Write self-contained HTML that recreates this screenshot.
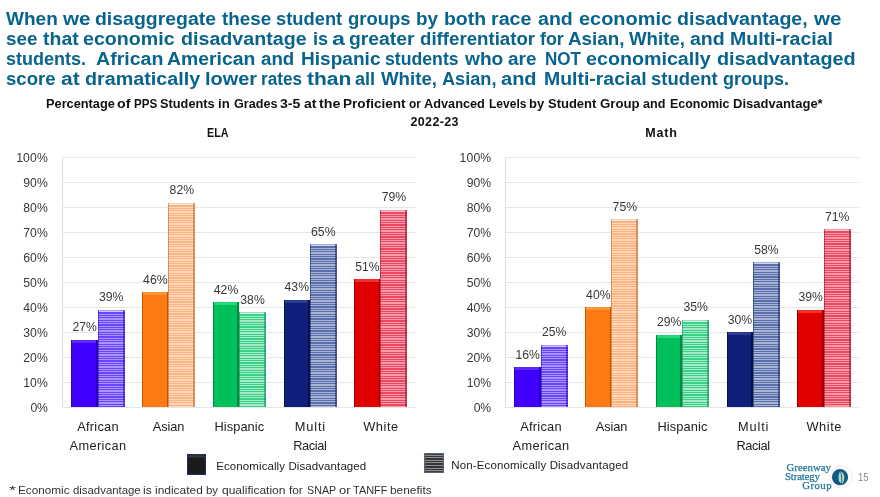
<!DOCTYPE html>
<html lang="en"><head><meta charset="utf-8"><title>Slide 15</title>
<style>
html,body{margin:0;padding:0;background:#fff;}
body{width:880px;height:497px;position:relative;overflow:hidden;font-family:"Liberation Sans",sans-serif;}
div,span{position:absolute;}
.ln{left:0;top:0;width:880px;height:0;}
.t{white-space:nowrap;font-weight:bold;font-size:18px;line-height:20px;color:#08648e;}
.sub{font-weight:bold;font-size:12.5px;color:#111;white-space:nowrap;line-height:13px;}
.grid{height:1px;background:#e6e6e6;}
.ax{width:1px;background:#dedede;}
.yl{white-space:nowrap;font-size:12.2px;line-height:14px;color:#383838;}
.cl{white-space:nowrap;font-size:12.8px;line-height:14px;color:#222;}
.dl{white-space:nowrap;font-size:12.2px;line-height:14px;color:#383838;}
.b0{--c:#3f00ff;--d:#2c00b8;--l:#5a2aff;--s1:#6a44ff;--s2:#aa94ff;--e:rgba(44,0,184,.55);}
.b1{--c:#ff7a12;--d:#bd5600;--l:#ff9438;--s1:#ffb27e;--s2:#ffd8be;--e:rgba(180,90,20,.5);}
.b2{--c:#00c05c;--d:#008a40;--l:#22d97a;--s1:#3ccf88;--s2:#a4ebc8;--e:rgba(0,130,70,.5);}
.b3{--c:#10207a;--d:#081248;--l:#2c3c92;--s1:#5a6eac;--s2:#a8b4d4;--e:rgba(20,34,100,.55);}
.b4{--c:#e00000;--d:#980000;--l:#f23030;--s1:#ee4660;--s2:#f99aa8;--e:rgba(150,10,30,.55);}
.s{background:linear-gradient(to right,var(--d) 0,var(--d) 1px,transparent 1px,transparent calc(100% - 2.2px),var(--d) calc(100% - 2.2px)),linear-gradient(to bottom,var(--l) 0,var(--l) 2.6px,transparent 2.6px),var(--c);}
.h{background:linear-gradient(to right,var(--e) 0,var(--e) .8px,transparent .8px,transparent calc(100% - 2.2px),var(--e) calc(100% - 2.2px)),linear-gradient(to bottom,rgba(255,255,255,.45) 0,rgba(255,255,255,.45) 2px,transparent 2px),repeating-linear-gradient(to bottom,var(--s1) 0,var(--s1) 1.2px,var(--s2) 1.2px,var(--s2) 2.4px);}
.lg{font-size:11.5px;color:#222;white-space:nowrap;line-height:12px;}
</style></head>
<body>
<div class="ln"><span class="t" style="left:5.9px;top:8.9px;transform-origin:0 50%;transform:scaleX(1.0571)">When</span> <span class="t" style="left:62.6px;top:8.9px;transform-origin:0 50%;transform:scaleX(1.1451)">we</span> <span class="t" style="left:94.5px;top:8.9px;transform-origin:0 50%;transform:scaleX(1.0799)">disaggregate</span> <span class="t" style="left:221.7px;top:8.9px;transform-origin:0 50%;transform:scaleX(1.0482)">these</span> <span class="t" style="left:276.3px;top:8.9px;transform-origin:0 50%;transform:scaleX(1.0185)">student</span> <span class="t" style="left:348.1px;top:8.9px;transform-origin:0 50%;transform:scaleX(1.0230)">groups</span> <span class="t" style="left:416.3px;top:8.9px;transform-origin:0 50%;transform:scaleX(1.0468)">by</span> <span class="t" style="left:443.5px;top:8.9px;transform-origin:0 50%;transform:scaleX(1.0774)">both</span> <span class="t" style="left:490.5px;top:8.9px;transform-origin:0 50%;transform:scaleX(1.0932)">race</span> <span class="t" style="left:537.7px;top:8.9px;transform-origin:0 50%;transform:scaleX(1.0870)">and</span> <span class="t" style="left:578.5px;top:8.9px;transform-origin:0 50%;transform:scaleX(1.1067)">economic</span> <span class="t" style="left:677.2px;top:8.9px;transform-origin:0 50%;transform:scaleX(1.0887)">disadvantage,</span> <span class="t" style="left:813.5px;top:8.9px;transform-origin:0 50%;transform:scaleX(1.1451)">we</span></div>
<div class="ln"><span class="t" style="left:5.9px;top:28.8px;transform-origin:0 50%;transform:scaleX(1.0484)">see</span> <span class="t" style="left:42.6px;top:28.8px;transform-origin:0 50%;transform:scaleX(1.0818)">that</span> <span class="t" style="left:83.0px;top:28.8px;transform-origin:0 50%;transform:scaleX(1.0901)">economic</span> <span class="t" style="left:181.4px;top:28.8px;transform-origin:0 50%;transform:scaleX(1.0917)">disadvantage</span> <span class="t" style="left:313.2px;top:28.8px;transform-origin:0 50%;transform:scaleX(1.0056)">is</span> <span class="t" style="left:331.7px;top:28.8px;transform-origin:0 50%;transform:scaleX(1.2880)">a</span> <span class="t" style="left:349.0px;top:28.8px;transform-origin:0 50%;transform:scaleX(1.0749)">greater</span> <span class="t" style="left:419.9px;top:28.8px;transform-origin:0 50%;transform:scaleX(1.0368)">differentiator</span> <span class="t" style="left:539.9px;top:28.8px;transform-origin:0 50%;transform:scaleX(0.9917)">for</span> <span class="t" style="left:568.1px;top:28.8px;transform-origin:0 50%;transform:scaleX(1.0457)">Asian,</span> <span class="t" style="left:629.0px;top:28.8px;transform-origin:0 50%;transform:scaleX(1.0370)">White,</span> <span class="t" style="left:689.9px;top:28.8px;transform-origin:0 50%;transform:scaleX(1.0838)">and</span> <span class="t" style="left:729.9px;top:28.8px;transform-origin:0 50%;transform:scaleX(1.0828)">Multi-racial</span></div>
<div class="ln"><span class="t" style="left:5.9px;top:48.6px;transform-origin:0 50%;transform:scaleX(1.0011)">students.</span>&nbsp; <span class="t" style="left:96.3px;top:48.6px;transform-origin:0 50%;transform:scaleX(1.0868)">African</span> <span class="t" style="left:167.2px;top:48.6px;transform-origin:0 50%;transform:scaleX(1.0762)">American</span> <span class="t" style="left:261.4px;top:48.6px;transform-origin:0 50%;transform:scaleX(1.0370)">and</span> <span class="t" style="left:300.5px;top:48.6px;transform-origin:0 50%;transform:scaleX(1.0596)">Hispanic</span> <span class="t" style="left:385.4px;top:48.6px;transform-origin:0 50%;transform:scaleX(0.9811)">students</span> <span class="t" style="left:464.5px;top:48.6px;transform-origin:0 50%;transform:scaleX(1.0639)">who</span> <span class="t" style="left:508.1px;top:48.6px;transform-origin:0 50%;transform:scaleX(1.0506)">are</span> <span class="t" style="left:544.5px;top:48.6px;transform-origin:0 50%;transform:scaleX(0.9474)">NOT</span> <span class="t" style="left:586.3px;top:48.6px;transform-origin:0 50%;transform:scaleX(1.0934)">economically</span> <span class="t" style="left:716.8px;top:48.6px;transform-origin:0 50%;transform:scaleX(1.1004)">disadvantaged</span></div>
<div class="ln"><span class="t" style="left:5.9px;top:68.5px;transform-origin:0 50%;transform:scaleX(1.0323)">score</span> <span class="t" style="left:60.8px;top:68.5px;transform-origin:0 50%;transform:scaleX(1.1676)">at</span> <span class="t" style="left:84.5px;top:68.5px;transform-origin:0 50%;transform:scaleX(1.0965)">dramatically</span> <span class="t" style="left:204.5px;top:68.5px;transform-origin:0 50%;transform:scaleX(1.1060)">lower</span> <span class="t" style="left:261.4px;top:68.5px;transform-origin:0 50%;transform:scaleX(0.9551)">rates</span> <span class="t" style="left:306.6px;top:68.5px;transform-origin:0 50%;transform:scaleX(1.1684)">than</span> <span class="t" style="left:355.4px;top:68.5px;transform-origin:0 50%;transform:scaleX(1.0042)">all</span> <span class="t" style="left:380.5px;top:68.5px;transform-origin:0 50%;transform:scaleX(1.0370)">White,</span> <span class="t" style="left:441.8px;top:68.5px;transform-origin:0 50%;transform:scaleX(1.0087)">Asian,</span> <span class="t" style="left:501.4px;top:68.5px;transform-origin:0 50%;transform:scaleX(1.1120)">and</span> <span class="t" style="left:543.5px;top:68.5px;transform-origin:0 50%;transform:scaleX(1.0796)">Multi-racial</span> <span class="t" style="left:650.8px;top:68.5px;transform-origin:0 50%;transform:scaleX(1.0246)">student</span> <span class="t" style="left:722.5px;top:68.5px;transform-origin:0 50%;transform:scaleX(1.0015)">groups.</span></div>
<div class="ln"><span class="sub" style="left:45.5px;top:98.3px;transform-origin:0 50%;transform:scaleX(1.0222)">Percentage</span> <span class="sub" style="left:117.3px;top:98.3px;transform-origin:0 50%;transform:scaleX(1.1344)">of</span> <span class="sub" style="left:133.8px;top:98.3px;transform-origin:0 50%;transform:scaleX(0.9254)">PPS</span> <span class="sub" style="left:159.8px;top:98.3px;transform-origin:0 50%;transform:scaleX(1.0218)">Students</span> <span class="sub" style="left:217.6px;top:98.3px;transform-origin:0 50%;transform:scaleX(1.0487)">in</span> <span class="sub" style="left:233.5px;top:98.3px;transform-origin:0 50%;transform:scaleX(1.0094)">Grades</span> <span class="sub" style="left:279.8px;top:98.3px;transform-origin:0 50%;transform:scaleX(1.1284)">3-5</span> <span class="sub" style="left:303.9px;top:98.3px;transform-origin:0 50%;transform:scaleX(1.1146)">at</span> <span class="sub" style="left:318.9px;top:98.3px;transform-origin:0 50%;transform:scaleX(1.1413)">the</span> <span class="sub" style="left:343.1px;top:98.3px;transform-origin:0 50%;transform:scaleX(1.0866)">Proficient</span> <span class="sub" style="left:408.8px;top:98.3px;transform-origin:0 50%;transform:scaleX(0.9520)">or</span> <span class="sub" style="left:424.3px;top:98.3px;transform-origin:0 50%;transform:scaleX(1.0192)">Advanced</span> <span class="sub" style="left:488.8px;top:98.3px;transform-origin:0 50%;transform:scaleX(0.9609)">Levels</span> <span class="sub" style="left:529.3px;top:98.3px;transform-origin:0 50%;transform:scaleX(1.0381)">by</span> <span class="sub" style="left:548.0px;top:98.3px;transform-origin:0 50%;transform:scaleX(1.0391)">Student</span> <span class="sub" style="left:600.0px;top:98.3px;transform-origin:0 50%;transform:scaleX(1.0587)">Group</span> <span class="sub" style="left:643.3px;top:98.3px;transform-origin:0 50%;transform:scaleX(1.0074)">and</span> <span class="sub" style="left:669.8px;top:98.3px;transform-origin:0 50%;transform:scaleX(0.9941)">Economic</span> <span class="sub" style="left:733.3px;top:98.3px;transform-origin:0 50%;transform:scaleX(1.0411)">Disadvantage*</span></div>
<div class="sub" style="left:410.5px;top:115.8px;letter-spacing:0.354px">2022-23</div>
<div class="sub" style="left:207.2px;top:126.5px;transform-origin:0 50%;transform:scaleX(0.8560)">ELA</div>
<div class="sub" style="left:645.2px;top:126.8px;letter-spacing:0.876px">Math</div>
<div class="grid" style="left:62.8px;top:156.9px;width:353.4px"></div>
<div class="yl" style="left:16.2px;top:150.5px;letter-spacing:0.143px">100%</div>
<div class="grid" style="left:62.8px;top:181.9px;width:353.4px"></div>
<div class="yl" style="left:23.3px;top:175.5px;letter-spacing:0.047px">90%</div>
<div class="grid" style="left:62.8px;top:207.0px;width:353.4px"></div>
<div class="yl" style="left:23.3px;top:200.6px;letter-spacing:0.047px">80%</div>
<div class="grid" style="left:62.8px;top:232.0px;width:353.4px"></div>
<div class="yl" style="left:23.3px;top:225.6px;letter-spacing:0.047px">70%</div>
<div class="grid" style="left:62.8px;top:257.0px;width:353.4px"></div>
<div class="yl" style="left:23.3px;top:250.6px;letter-spacing:0.047px">60%</div>
<div class="grid" style="left:62.8px;top:282.1px;width:353.4px"></div>
<div class="yl" style="left:23.3px;top:275.7px;letter-spacing:0.047px">50%</div>
<div class="grid" style="left:62.8px;top:307.1px;width:353.4px"></div>
<div class="yl" style="left:23.3px;top:300.7px;letter-spacing:0.047px">40%</div>
<div class="grid" style="left:62.8px;top:332.1px;width:353.4px"></div>
<div class="yl" style="left:23.3px;top:325.7px;letter-spacing:0.047px">30%</div>
<div class="grid" style="left:62.8px;top:357.1px;width:353.4px"></div>
<div class="yl" style="left:23.3px;top:350.7px;letter-spacing:0.047px">20%</div>
<div class="grid" style="left:62.8px;top:382.2px;width:353.4px"></div>
<div class="yl" style="left:23.3px;top:375.8px;letter-spacing:0.047px">10%</div>
<div class="grid" style="left:62.8px;top:407.2px;width:353.4px"></div>
<div class="yl" style="left:30.4px;top:400.8px;letter-spacing:-0.225px">0%</div>
<div class="ax" style="left:62.3px;top:157.4px;height:250.3px"></div>
<div class="s b0" style="left:71.4px;top:339.5px;width:26.5px;height:67.6px"></div>
<div class="h b0" style="left:97.5px;top:309.5px;width:27.2px;height:97.6px"></div>
<div class="dl" style="left:72.4px;top:320.3px;letter-spacing:0.047px">27%</div>
<div class="dl" style="left:98.9px;top:290.3px;letter-spacing:0.047px">39%</div>
<div class="cl" style="left:77.2px;top:420px;letter-spacing:0.262px">African</div>
<div class="cl" style="left:69.6px;top:438.6px;letter-spacing:0.363px">American</div>
<div class="s b1" style="left:142.1px;top:292.0px;width:26.5px;height:115.1px"></div>
<div class="h b1" style="left:168.2px;top:202.5px;width:27.2px;height:204.6px"></div>
<div class="dl" style="left:143.1px;top:272.8px;letter-spacing:0.047px">46%</div>
<div class="dl" style="left:169.6px;top:182.7px;letter-spacing:0.047px">82%</div>
<div class="cl" style="left:152.8px;top:420px;letter-spacing:-0.104px">Asian</div>
<div class="s b2" style="left:212.8px;top:302.0px;width:26.5px;height:105.1px"></div>
<div class="h b2" style="left:238.9px;top:312.0px;width:27.2px;height:95.1px"></div>
<div class="dl" style="left:213.8px;top:282.8px;letter-spacing:0.047px">42%</div>
<div class="dl" style="left:240.3px;top:292.8px;letter-spacing:0.047px">38%</div>
<div class="cl" style="left:214.4px;top:420px;letter-spacing:0.103px">Hispanic</div>
<div class="s b3" style="left:283.5px;top:299.5px;width:26.5px;height:107.6px"></div>
<div class="h b3" style="left:309.6px;top:244.4px;width:27.2px;height:162.7px"></div>
<div class="dl" style="left:284.5px;top:280.3px;letter-spacing:0.047px">43%</div>
<div class="dl" style="left:311.0px;top:225.2px;letter-spacing:0.047px">65%</div>
<div class="cl" style="left:294.8px;top:420px;letter-spacing:0.842px">Multi</div>
<div class="cl" style="left:293.2px;top:438.6px;letter-spacing:-0.392px">Racial</div>
<div class="s b4" style="left:354.2px;top:279.4px;width:26.5px;height:127.7px"></div>
<div class="h b4" style="left:380.3px;top:210.4px;width:27.2px;height:196.7px"></div>
<div class="dl" style="left:355.2px;top:260.2px;letter-spacing:0.047px">51%</div>
<div class="dl" style="left:381.7px;top:190.2px;letter-spacing:0.047px">79%</div>
<div class="cl" style="left:363.2px;top:420px;letter-spacing:0.570px">White</div>
<div class="grid" style="left:505.7px;top:156.9px;width:353.8px"></div>
<div class="yl" style="left:459.6px;top:150.5px;letter-spacing:0.143px">100%</div>
<div class="grid" style="left:505.7px;top:181.9px;width:353.8px"></div>
<div class="yl" style="left:466.7px;top:175.5px;letter-spacing:0.047px">90%</div>
<div class="grid" style="left:505.7px;top:207.0px;width:353.8px"></div>
<div class="yl" style="left:466.7px;top:200.6px;letter-spacing:0.047px">80%</div>
<div class="grid" style="left:505.7px;top:232.0px;width:353.8px"></div>
<div class="yl" style="left:466.7px;top:225.6px;letter-spacing:0.047px">70%</div>
<div class="grid" style="left:505.7px;top:257.0px;width:353.8px"></div>
<div class="yl" style="left:466.7px;top:250.6px;letter-spacing:0.047px">60%</div>
<div class="grid" style="left:505.7px;top:282.1px;width:353.8px"></div>
<div class="yl" style="left:466.7px;top:275.7px;letter-spacing:0.047px">50%</div>
<div class="grid" style="left:505.7px;top:307.1px;width:353.8px"></div>
<div class="yl" style="left:466.7px;top:300.7px;letter-spacing:0.047px">40%</div>
<div class="grid" style="left:505.7px;top:332.1px;width:353.8px"></div>
<div class="yl" style="left:466.7px;top:325.7px;letter-spacing:0.047px">30%</div>
<div class="grid" style="left:505.7px;top:357.1px;width:353.8px"></div>
<div class="yl" style="left:466.7px;top:350.7px;letter-spacing:0.047px">20%</div>
<div class="grid" style="left:505.7px;top:382.2px;width:353.8px"></div>
<div class="yl" style="left:466.7px;top:375.8px;letter-spacing:0.047px">10%</div>
<div class="grid" style="left:505.7px;top:407.2px;width:353.8px"></div>
<div class="yl" style="left:473.8px;top:400.8px;letter-spacing:-0.225px">0%</div>
<div class="ax" style="left:505.2px;top:157.4px;height:250.3px"></div>
<div class="s b0" style="left:514.4px;top:367.1px;width:26.5px;height:40.0px"></div>
<div class="h b0" style="left:540.5px;top:344.5px;width:27.2px;height:62.6px"></div>
<div class="dl" style="left:515.4px;top:347.9px;letter-spacing:0.047px">16%</div>
<div class="dl" style="left:541.9px;top:325.3px;letter-spacing:0.047px">25%</div>
<div class="cl" style="left:520.2px;top:420px;letter-spacing:0.262px">African</div>
<div class="cl" style="left:512.6px;top:438.6px;letter-spacing:0.363px">American</div>
<div class="s b1" style="left:585.1px;top:307.0px;width:26.5px;height:100.1px"></div>
<div class="h b1" style="left:611.2px;top:219.4px;width:27.2px;height:187.7px"></div>
<div class="dl" style="left:586.1px;top:287.8px;letter-spacing:0.047px">40%</div>
<div class="dl" style="left:612.6px;top:200.2px;letter-spacing:0.047px">75%</div>
<div class="cl" style="left:595.8px;top:420px;letter-spacing:-0.104px">Asian</div>
<div class="s b2" style="left:655.9px;top:334.5px;width:26.5px;height:72.6px"></div>
<div class="h b2" style="left:682.0px;top:319.5px;width:27.2px;height:87.6px"></div>
<div class="dl" style="left:656.9px;top:315.3px;letter-spacing:0.047px">29%</div>
<div class="dl" style="left:683.4px;top:300.3px;letter-spacing:0.047px">35%</div>
<div class="cl" style="left:657.5px;top:420px;letter-spacing:0.103px">Hispanic</div>
<div class="s b3" style="left:726.7px;top:332.0px;width:26.5px;height:75.1px"></div>
<div class="h b3" style="left:752.8px;top:261.9px;width:27.2px;height:145.2px"></div>
<div class="dl" style="left:727.7px;top:312.8px;letter-spacing:0.047px">30%</div>
<div class="dl" style="left:754.2px;top:242.7px;letter-spacing:0.047px">58%</div>
<div class="cl" style="left:738.0px;top:420px;letter-spacing:0.842px">Multi</div>
<div class="cl" style="left:736.4px;top:438.6px;letter-spacing:-0.392px">Racial</div>
<div class="s b4" style="left:797.4px;top:309.5px;width:26.5px;height:97.6px"></div>
<div class="h b4" style="left:823.5px;top:229.4px;width:27.2px;height:177.7px"></div>
<div class="dl" style="left:798.4px;top:290.3px;letter-spacing:0.047px">39%</div>
<div class="dl" style="left:824.9px;top:210.2px;letter-spacing:0.047px">71%</div>
<div class="cl" style="left:806.4px;top:420px;letter-spacing:0.570px">White</div>
<div style="left:187.4px;top:454.2px;width:19px;height:20.6px;background:linear-gradient(to bottom,#2b2b2b 0,#3a3a3a 2.5px,#1b1b1b 4px,#1b1b1b 100%);border-radius:1px;box-shadow:inset 0 0 0 1.2px #1b2a62"></div>
<div class="lg" style="left:216.25px;top:460px;letter-spacing:0.093px">Economically Disadvantaged</div>
<div style="left:424.2px;top:453.4px;width:19.6px;height:19.6px;background:repeating-linear-gradient(to bottom,#363636 0,#363636 1.6px,#909090 1.6px,#909090 2.6px);box-shadow:inset 0 0 0 1.2px #56647c"></div>
<div class="lg" style="left:451.2px;top:459.3px;letter-spacing:0.152px">Non-Economically Disadvantaged</div>
<div class="ln"><span class="lg" style="left:9.3px;top:484.1px;color:#333;transform-origin:0 50%;transform:scaleX(1.5610)">*</span> <span class="lg" style="left:18.4px;top:484.1px;color:#333;transform-origin:0 50%;transform:scaleX(1.0218)">Economic</span> <span class="lg" style="left:72.7px;top:484.1px;color:#333;transform-origin:0 50%;transform:scaleX(0.9894)">disadvantage</span> <span class="lg" style="left:143.4px;top:484.1px;color:#333;transform-origin:0 50%;transform:scaleX(1.0466)">is</span> <span class="lg" style="left:155.4px;top:484.1px;color:#333;transform-origin:0 50%;transform:scaleX(1.0381)">indicated</span> <span class="lg" style="left:206.0px;top:484.1px;color:#333;transform-origin:0 50%;transform:scaleX(0.9954)">by</span> <span class="lg" style="left:222.1px;top:484.1px;color:#333;transform-origin:0 50%;transform:scaleX(1.0455)">qualification</span> <span class="lg" style="left:289.4px;top:484.1px;color:#333;transform-origin:0 50%;transform:scaleX(1.0282)">for</span> <span class="lg" style="left:307.1px;top:484.1px;color:#333;transform-origin:0 50%;transform:scaleX(0.9321)">SNAP</span> <span class="lg" style="left:338.8px;top:484.1px;color:#333;transform-origin:0 50%;transform:scaleX(1.1237)">or</span> <span class="lg" style="left:353.3px;top:484.1px;color:#333;transform-origin:0 50%;transform:scaleX(0.9530)">TANFF</span> <span class="lg" style="left:390.0px;top:484.1px;color:#333;transform-origin:0 50%;transform:scaleX(1.0352)">benefits</span></div>
<div style="left:786.5px;top:462.7px;font-family:'Liberation Serif',serif;font-size:10.8px;line-height:9px;color:#23769b;white-space:nowrap;-webkit-text-stroke:0.25px #23769b"><div style="left:0;top:0;letter-spacing:0.004px">Greenway</div>
<div style="left:-1.5px;top:8.9px;letter-spacing:-0.141px">Strategy</div>
<div style="left:15.8px;top:18.2px;letter-spacing:0.427px">Group</div>
</div>
<svg style="position:absolute;left:825px;top:462px" width="30" height="30" viewBox="0 0 30 30"><circle cx="16" cy="15" r="11.2" fill="none" stroke="#fbe1e1" stroke-width="0.8"/><circle cx="15" cy="15.2" r="8.1" fill="#0c5a85"/><path d="M15.1 9.6C13.6 11.5 12.9 16.5 14.4 19.8L16.8 22.3C19.5 19.5 20.2 14 18.2 11.4C17.2 10.3 16.2 9.8 15.1 9.6Z" fill="#b9d6bf"/><path d="M15.6 9.8C16.8 13 16.9 18 16.6 22" fill="none" stroke="#0c5a85" stroke-width="0.9"/></svg>
<div class="lg" style="left:858.2px;top:471.7px;color:#8a8a8a;font-size:10.2px;transform-origin:0 50%;transform:scaleX(0.9344)">15</div>
</body></html>
